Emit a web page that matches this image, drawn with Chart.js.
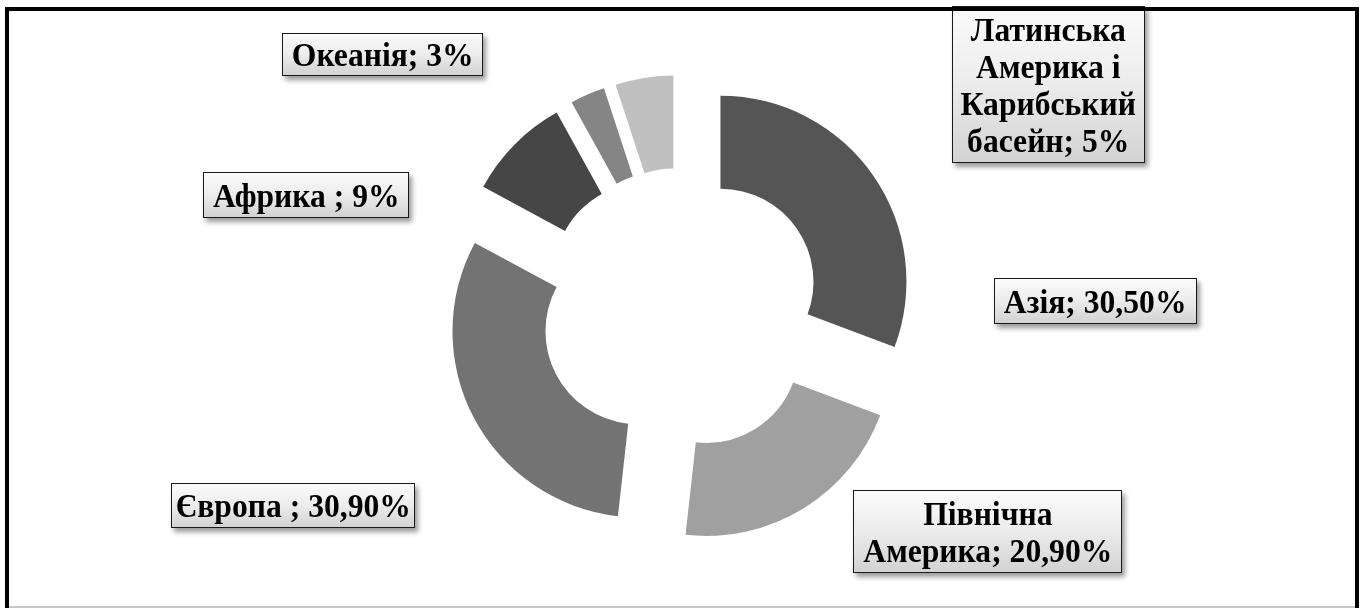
<!DOCTYPE html>
<html lang="uk">
<head>
<meta charset="utf-8">
<title>Регіони</title>
<script src="https://cdn.jsdelivr.net/npm/chart.js@4.4.1/dist/chart.umd.min.js"></script>
<style>
    html, body { margin: 0; padding: 0; background: #fff; }
    body { width: 1366px; height: 608px; position: relative; overflow: hidden; }
    #wrap { position: absolute; left: 0; top: 0; width: 1366px; height: 608px; }
    .frame {
        position: absolute; left: 5px; top: 7px; width: 1346px; height: 620px;
        border: 4px solid #000; z-index: 3; pointer-events: none;
    }
    .bottom-line {
        position: absolute; left: 9px; top: 606px; width: 1346px; height: 2px;
        background: #c8c8c8; z-index: 3;
    }
    .lbl {
        position: absolute; box-sizing: border-box; z-index: 2;
        display: flex; align-items: center; justify-content: center; text-align: center;
        font-family: "Times New Roman", "Liberation Serif", serif;
        font-weight: bold; font-size: 34px; line-height: 37px; color: #000;
        border: 1.5px solid #1a1a1a;
        background: linear-gradient(to bottom, #fbfbfb 0%, #ececec 50%, #d2d2d2 100%);
        box-shadow: 3px 4px 5px rgba(0, 0, 0, 0.4);
    }
    .lbl span {
        display: inline-block; white-space: pre; flex: none;
        transform: scaleX(0.93); transform-origin: center;
    }
</style>
</head>
<body>
<div id="wrap"><canvas id="chart" width="1366" height="608"></canvas></div>
<div class="frame"></div>
<div class="bottom-line"></div>
<script>
// дані діаграми
const regions = ['Азія', 'Північна Америка', 'Європа', 'Африка', 'Океанія', 'Латинська Америка і Карибський басейн'];
const shares = [30.5, 20.9, 30.9, 9, 3, 5];
const labelTexts = [
    'Азія; 30,50%',
    'Північна\nАмерика; 20,90%',
    'Європа ; 30,90%',
    'Африка ; 9%',
    'Океанія; 3%',
    'Латинська\nАмерика і\nКарибський\nбасейн; 5%'
];
const sliceColors = ['#555555', '#a0a0a0', '#737373', '#464646', '#858585', '#c0c0c0'];

// розташування підписів (left, top, width, height)
const labelBoxes = [
    [994, 278, 203, 46],
    [853, 490, 269, 83],
    [171, 483, 244, 45],
    [203, 172, 206, 46],
    [282, 33, 201, 43],
    [952, 6, 193, 157]
];

const explode = 48;

labelTexts.forEach((txt, i) => {
    const b = labelBoxes[i];
    const div = document.createElement('div');
    div.className = 'lbl';
    const span = document.createElement('span');
    span.textContent = txt;
    div.appendChild(span);
    div.style.left = b[0] + 'px';
    div.style.top = b[1] + 'px';
    div.style.width = b[2] + 'px';
    div.style.height = b[3] + 'px';
    document.body.appendChild(div);
});

// зсув сегментів від центру (без зміни радіуса, як в Excel)
const explodePlugin = {
    id: 'explode',
    afterDatasetUpdate(chart, args) {
        args.meta.data.forEach(arc => {
            if (arc._wrapped) return;
            const orig = arc.draw;
            arc.draw = function(ctx) {
                const mid = (this.startAngle + this.endAngle) / 2;
                ctx.save();
                ctx.translate(Math.cos(mid) * explode, Math.sin(mid) * explode);
                orig.call(this, ctx);
                ctx.restore();
            };
            arc._wrapped = true;
        });
    }
};

const ctx = document.getElementById('chart').getContext('2d');
const chart = new Chart(ctx, {
    type: 'doughnut',
    data: {
        labels: regions,
        datasets: [{
            data: shares,
            backgroundColor: sliceColors,
            borderWidth: 0,
            radius: 186,
            cutout: '50%'
        }]
    },
    options: {
        responsive: false,
        animation: false,
        layout: { padding: { left: 0, right: 4, top: 10, bottom: 0 } },
        plugins: {
            legend: { display: false },
            tooltip: { enabled: false }
        }
    },
    plugins: [explodePlugin]
});
</script>
</body>
</html>
